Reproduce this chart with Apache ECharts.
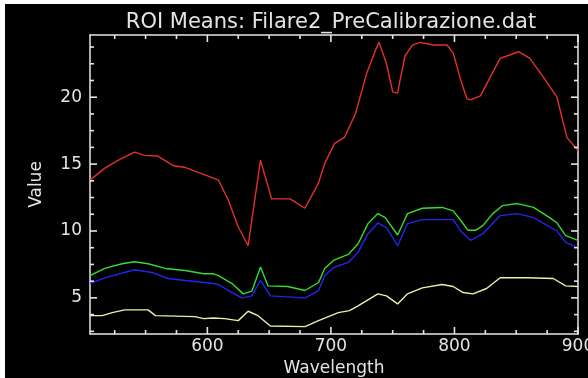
<!DOCTYPE html>
<html>
<head>
<meta charset="utf-8">
<script src="https://cdn.jsdelivr.net/npm/echarts@6/dist/echarts.min.js"></script>
<style>
html,body{margin:0;padding:0;background:#fff;width:588px;height:378px;overflow:hidden;}
#c{position:absolute;left:5px;top:4px;width:583px;height:374px;background:#000;}
</style>
</head>
<body>
<div id="c"></div>
<script>
const titleText = 'ROI Means: Filare2_PreCalibrazione.dat';
const xName = 'Wavelength';
const yName = 'Value';
const xTickLabels = [600, 700, 800, 900];
const yTickLabels = [5, 10, 15, 20];

const redWl = [505,517,528,541,549,560,572,582,592,598,609,617,625,633,643,652,667,679,690,695,703,711,720,729,736,739,745,750,754,756,760,766,772,778,783,794,799,805,810,813,821,829,837,843,852,861,872,883,891,900];
const redVal = [13.8,14.7,15.3,15.9,15.65,15.6,14.9,14.75,14.4,14.2,13.8,12.3,10.3,8.9,15.3,12.4,12.4,11.7,13.6,15.05,16.55,17.0,18.8,21.8,23.5,24.1,22.5,20.4,20.3,21.3,23.1,23.9,24.1,24.0,23.9,23.9,23.3,21.3,19.9,19.8,20.1,21.5,22.9,23.1,23.4,22.9,21.5,20.0,17.0,16.0];

const greenWl = [505,517,531,541,552,566,582,597,605,609,620,629,636,643,649,665,679,690,695,702,706,714,722,730,738,744,754,762,774,790,799,805,811,817,823,831,839,851,864,877,883,890,900];
const greenVal = [6.67,7.2,7.55,7.7,7.55,7.2,7.05,6.8,6.8,6.67,6.07,5.3,5.5,7.3,5.9,5.85,5.55,6.15,7.2,7.8,7.95,8.25,9.05,10.55,11.3,11.0,9.7,11.3,11.7,11.76,11.5,10.8,10.05,10.05,10.4,11.3,11.9,12.05,11.76,11.0,10.6,9.66,9.3];

const blueWl = [505,517,541,555,568,582,605,609,620,628,636,643,651,679,690,695,702,706,714,722,730,738,745,754,762,774,799,805,813,823,837,851,864,883,890,900];
const blueVal = [6.07,6.5,7.1,6.9,6.45,6.3,6.07,6.0,5.4,5.0,5.15,6.3,5.15,5.0,5.55,6.67,7.25,7.4,7.65,8.4,9.8,10.6,10.25,8.9,10.55,10.85,10.85,10.0,9.3,9.8,11.15,11.3,11.0,10.0,9.15,8.75];

const yellowWl = [505,515,523,533,552,558,590,597,605,614,625,633,641,651,679,690,702,706,715,722,738,745,754,762,774,790,799,807,815,826,837,859,880,890,900];
const yellowVal = [3.67,3.67,3.9,4.1,4.1,3.67,3.6,3.45,3.5,3.45,3.3,4.0,3.67,2.9,2.85,3.3,3.75,3.9,4.05,4.4,5.3,5.15,4.55,5.3,5.75,6.0,5.85,5.4,5.3,5.7,6.5,6.5,6.45,5.9,5.85];

const xMin = 505, xMax = 900, yMin = 2.3, yMax = 24.65;
const xMinorStep = 25, yMinorStep = 1.25;

function pairs(w, v){ return w.map((x,i)=>[x, v[i]]); }
function minorTicks(lo, hi, step, majors){
  const out = [];
  for (let k = Math.ceil(lo / step); k * step < hi; k++) {
    const v = +(k * step).toFixed(4);
    if (v > lo && majors.indexOf(v) < 0) out.push(v);
  }
  return out;
}
const xMinor = minorTicks(xMin, xMax, xMinorStep, xTickLabels);
const yMinor = minorTicks(yMin, yMax, yMinorStep, yTickLabels);

const FONT = 'DejaVu Sans';
const TXT = '#e4e4e4';
const AX = '#e6e6e6';

const chart = echarts.init(document.getElementById('c'), null, {renderer:'canvas'});

function axis(dim, pos, opts){
  const o = {
    type:'value', position:pos,
    min: dim === 'x' ? xMin : yMin, max: dim === 'x' ? xMax : yMax,
    axisLine:{show:true, lineStyle:{color:AX, width:1.5}},
    axisTick:{show:false},
    axisLabel:{show:false},
    splitLine:{show:false}
  };
  return Object.assign(o, opts || {});
}
const lbl = (vals, margin) => ({show:true, customValues:vals, margin, color:TXT, fontFamily:FONT, fontSize:17});

function ser(name, w, v, color){
  return {name, type:'line', xAxisIndex:0, yAxisIndex:0, data:pairs(w,v), showSymbol:false, symbol:'none',
    lineStyle:{color, width:1.4}, itemStyle:{color}, animation:false, z:3};
}

// Tick marks drawn as a custom series: each tick value is placed through the axes' own scales.
// Each datum: [xValue, yValue, length, side] where side 0 = x-tick (bottom+top), 1 = y-tick (left+right)
const tickData = []
  .concat(xTickLabels.map(v => [v, yMin, 7, 0]))
  .concat(xMinor.map(v => [v, yMin, 4, 0]))
  .concat(yTickLabels.map(v => [xMin, v, 7, 1]))
  .concat(yMinor.map(v => [xMin, v, 4, 1]));

function renderTick(params, api){
  const len = api.value(2), side = api.value(3);
  const st = {stroke:AX, lineWidth:1.6};
  if (side === 0) {
    const b = api.coord([api.value(0), yMin]);
    const t = api.coord([api.value(0), yMax]);
    return {type:'group', children:[
      {type:'line', shape:{x1:b[0], y1:b[1], x2:b[0], y2:b[1] - len}, style:st},
      {type:'line', shape:{x1:t[0], y1:t[1], x2:t[0], y2:t[1] + len}, style:st}
    ]};
  }
  const l = api.coord([xMin, api.value(1)]);
  const r = api.coord([xMax, api.value(1)]);
  return {type:'group', children:[
    {type:'line', shape:{x1:l[0], y1:l[1], x2:l[0] + len, y2:l[1]}, style:st},
    {type:'line', shape:{x1:r[0], y1:r[1], x2:r[0] - len, y2:r[1]}, style:st}
  ]};
}

chart.setOption({
  backgroundColor:'#000',
  animation:false,
  grid:{left:85, top:31, width:488, height:299, containLabel:false, outerBoundsMode:'none'},
  xAxis:[
    axis('x','bottom', {axisLabel:lbl(xTickLabels, 4), name:xName, nameLocation:'middle', nameGap:10,
      nameTextStyle:{color:TXT, fontFamily:FONT, fontSize:17}}),
    axis('x','top')
  ],
  yAxis:[
    axis('y','left', {axisLabel:lbl(yTickLabels, 8), name:yName, nameLocation:'middle', nameGap:45, nameRotate:90,
      nameTextStyle:{color:TXT, fontFamily:FONT, fontSize:17}}),
    axis('y','right')
  ],
  graphic:[{type:'text', x:326, y:19, style:{text:titleText, fill:TXT, font:'21px "DejaVu Sans"', textAlign:'center', textVerticalAlign:'middle'}}],
  series:[
    ser('Red', redWl, redVal, '#e2302c'),
    ser('Green', greenWl, greenVal, '#34dc34'),
    ser('Blue', blueWl, blueVal, '#2424ec'),
    ser('Yellow', yellowWl, yellowVal, '#eeeea8'),
    {name:'ticks', type:'custom', xAxisIndex:0, yAxisIndex:0, data:tickData, renderItem:renderTick,
      clip:false, silent:true, z:10, animation:false, tooltip:{show:false}}
  ]
});
</script>
</body>
</html>
